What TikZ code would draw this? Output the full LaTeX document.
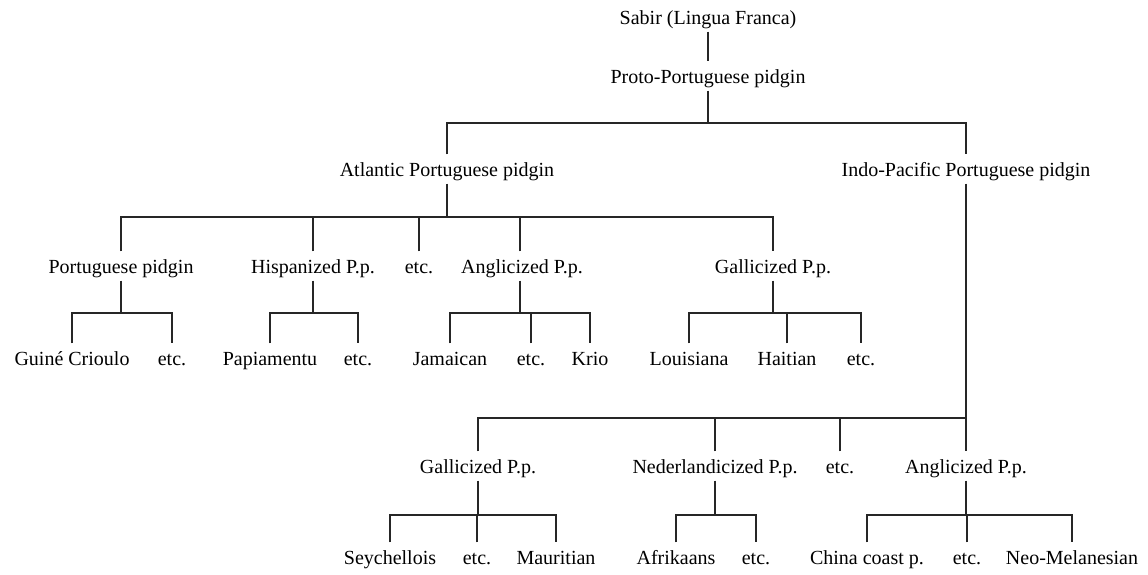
\documentclass[tikz,border=0pt]{standalone}
\usepackage{fontspec}
\setmainfont{Liberation Serif}
\begin{document}
\begin{tikzpicture}[x=1pt,y=-1pt,
  lab/.style={font=\fontsize{20}{24}\selectfont, inner xsep=0pt, inner ysep=5pt,
              text height=16.5pt, text depth=2.5pt},
  link/.style={line width=1.7pt, line join=miter, line cap=butt, black!85}]
\useasboundingbox (0,0) rectangle (1148,574);

% level 0 and 1
\node[lab] (sabir) at (708,17) {Sabir (Lingua Franca)};
\node[lab] (proto) at (708,76) {Proto-Portuguese pidgin};

% level 2
\node[lab] (atl) at (447,169) {Atlantic Portuguese pidgin};
\node[lab] (ind) at (966,169) {Indo-Pacific Portuguese pidgin};

% Atlantic branches
\node[lab] (ppid)  at (121,266) {Portuguese pidgin};
\node[lab] (hisp)  at (313,266) {Hispanized P.p.};
\node[lab] (aetc)  at (419,266) {etc.};
\node[lab] (angA)  at (522,266) {Anglicized P.p.};
\node[lab] (galA)  at (773,266) {Gallicized P.p.};

% Atlantic leaves
\node[lab] (guine) at (72,358)  {Guiné Crioulo};
\node[lab] (pe1)   at (172,358) {etc.};
\node[lab] (papia) at (270,358) {Papiamentu};
\node[lab] (pe2)   at (358,358) {etc.};
\node[lab] (jam)   at (450,358) {Jamaican};
\node[lab] (pe3)   at (531,358) {etc.};
\node[lab] (krio)  at (590,358) {Krio};
\node[lab] (louis) at (689,358) {Louisiana};
\node[lab] (hait)  at (787,358) {Haitian};
\node[lab] (pe4)   at (861,358) {etc.};

% Indo-Pacific branches
\node[lab] (galI)  at (478,466) {Gallicized P.p.};
\node[lab] (ned)   at (715,466) {Nederlandicized P.p.};
\node[lab] (ietc)  at (840,466) {etc.};
\node[lab] (angI)  at (966,466) {Anglicized P.p.};

% Indo-Pacific leaves
\node[lab] (seych) at (390,557) {Seychellois};
\node[lab] (qe1)   at (477,557) {etc.};
\node[lab] (maur)  at (556,557) {Mauritian};
\node[lab] (afrik) at (676,557) {Afrikaans};
\node[lab] (qe2)   at (756,557) {etc.};
\node[lab] (china) at (867,557) {China coast p.};
\node[lab] (qe3)   at (967,557) {etc.};
\node[lab] (neo)   at (1072,557) {Neo-Melanesian};

% junction points of the forks
\coordinate (jproto) at (708,123);
\coordinate (jatl)   at (447,217);
\coordinate (jppid)  at (121,313);
\coordinate (jhisp)  at (313,313);
\coordinate (jangA)  at (520,313);
\coordinate (jgalA)  at (773,313);
\coordinate (jind)   at (966,418);
\coordinate (jgalI)  at (478,515);
\coordinate (jned)   at (715,515);
\coordinate (jangI)  at (966,515);

% trunk
\draw[link] (sabir.south) -- (proto.north);
\draw[link] (proto.south) -- (jproto);
\draw[link] (atl.north) |- (jproto) -| (ind.north);

% Atlantic fork
\draw[link] (atl.south) -- (jatl);
\draw[link] (ppid.north) |- (jatl) -| (galA.north);
\draw[link] (hisp.north) -- (hisp.north |- jatl);
\draw[link] (aetc.north) -- (aetc.north |- jatl);
\draw[link] (angA.north -| jangA) -- (jangA |- jatl);

\draw[link] (ppid.south) -- (jppid);
\draw[link] (guine.north) |- (jppid) -| (pe1.north);

\draw[link] (hisp.south) -- (jhisp);
\draw[link] (papia.north) |- (jhisp) -| (pe2.north);

\draw[link] (angA.south -| jangA) -- (jangA);
\draw[link] (jam.north) |- (jangA) -| (krio.north);
\draw[link] (pe3.north) -- (pe3.north |- jangA);

\draw[link] (galA.south) -- (jgalA);
\draw[link] (louis.north) |- (jgalA) -| (pe4.north);
\draw[link] (hait.north) -- (hait.north |- jgalA);

% Indo-Pacific fork
\draw[link] (ind.south) -- (jind);
\draw[link] (galI.north) |- (jind) -- (angI.north);
\draw[link] (ned.north) -- (ned.north |- jind);
\draw[link] (ietc.north) -- (ietc.north |- jind);

\draw[link] (galI.south) -- (jgalI);
\draw[link] (seych.north) |- (jgalI) -| (maur.north);
\draw[link] (qe1.north) -- (qe1.north |- jgalI);

\draw[link] (ned.south) -- (jned);
\draw[link] (afrik.north) |- (jned) -| (qe2.north);

\draw[link] (angI.south) -- (jangI);
\draw[link] (china.north) |- (jangI) -| (neo.north);
\draw[link] (qe3.north) -- (qe3.north |- jangI);
\end{tikzpicture}
\end{document}
